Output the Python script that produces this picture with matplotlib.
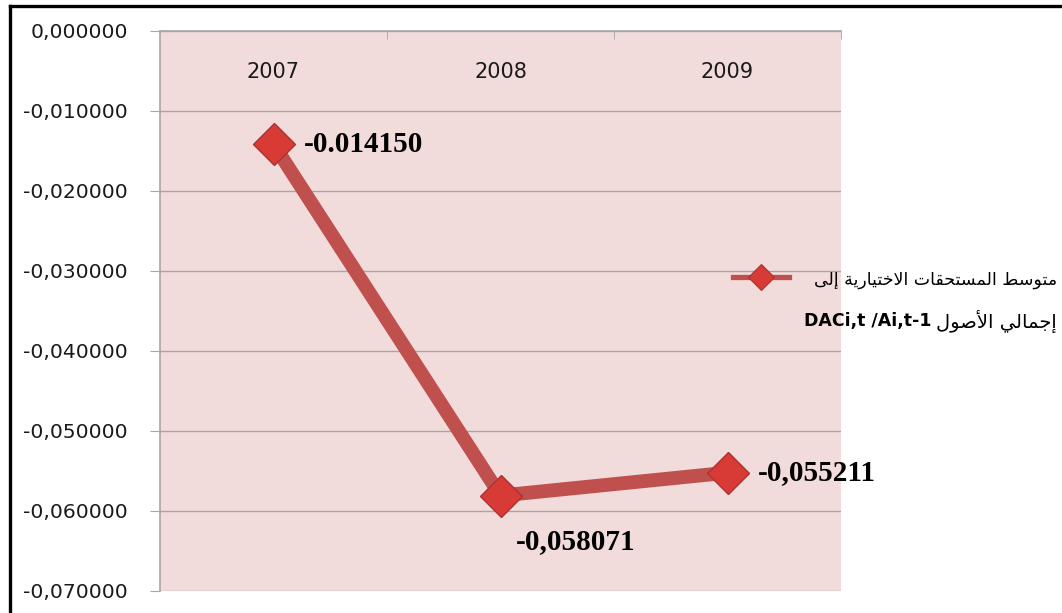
import matplotlib
matplotlib.use("Agg")
import matplotlib.pyplot as plt
from matplotlib.lines import Line2D
from matplotlib.ticker import FixedLocator, FuncFormatter

# data
years = ["2007", "2008", "2009"]
values = [-0.014150, -0.058071, -0.055211]
value_labels = ["-0.014150", "-0,058071", "-0,055211"]
label_offsets = [(22, 0), (11, -33), (22, 0)]  # points
yticks = [0.0, -0.01, -0.02, -0.03, -0.04, -0.05, -0.06, -0.07]

legend_line1 = "متوسط المستحقات الاختيارية إلى"
legend_line2_ar = "إجمالي الأصول"
legend_line2_lat = "DACi,t /Ai,t-1"

# minimal arabic shaping (matplotlib has no bidi / joining support)
AR = {
    'ا': ('\uFE8D', '\uFE8E', None, None),
    'أ': ('\uFE83', '\uFE84', None, None),
    'إ': ('\uFE87', '\uFE88', None, None),
    'ة': ('\uFE93', '\uFE94', None, None),
    'ت': ('\uFE95', '\uFE96', '\uFE97', '\uFE98'),
    'ج': ('\uFE9D', '\uFE9E', '\uFE9F', '\uFEA0'),
    'ح': ('\uFEA1', '\uFEA2', '\uFEA3', '\uFEA4'),
    'خ': ('\uFEA5', '\uFEA6', '\uFEA7', '\uFEA8'),
    'ر': ('\uFEAD', '\uFEAE', None, None),
    'س': ('\uFEB1', '\uFEB2', '\uFEB3', '\uFEB4'),
    'ص': ('\uFEB9', '\uFEBA', '\uFEBB', '\uFEBC'),
    'ط': ('\uFEC1', '\uFEC2', '\uFEC3', '\uFEC4'),
    'ق': ('\uFED5', '\uFED6', '\uFED7', '\uFED8'),
    'ل': ('\uFEDD', '\uFEDE', '\uFEDF', '\uFEE0'),
    'م': ('\uFEE1', '\uFEE2', '\uFEE3', '\uFEE4'),
    'و': ('\uFEED', '\uFEEE', None, None),
    'ى': ('\uFEEF', '\uFEF0', None, None),
    'ي': ('\uFEF1', '\uFEF2', '\uFEF3', '\uFEF4'),
}
LAM_ALEF = {'ا': ('\uFEFB', '\uFEFC'), 'أ': ('\uFEF7', '\uFEF8'),
            'إ': ('\uFEF9', '\uFEFA')}


def shape(s):
    out = []
    i = 0
    n = len(s)
    while i < n:
        c = s[i]
        if c not in AR:
            out.append(c)
            i += 1
            continue
        prev = i > 0 and s[i - 1] in AR and AR[s[i - 1]][2] is not None
        if c == 'ل' and i + 1 < n and s[i + 1] in LAM_ALEF:
            out.append(LAM_ALEF[s[i + 1]][1 if prev else 0])
            i += 2
            continue
        iso, fin, ini, med = AR[c]
        nxt = ini is not None and i + 1 < n and s[i + 1] in AR
        if prev and nxt:
            out.append(med)
        elif prev:
            out.append(fin)
        elif nxt:
            out.append(ini)
        else:
            out.append(iso)
        i += 1
    return ''.join(reversed(out))


W, H, DPI = 1062, 613, 100
fig = plt.figure(figsize=(W / DPI, H / DPI), dpi=DPI)
ax = fig.add_axes([160 / W, 1 - 591 / H, 681 / W, 560 / H])

pink = "#F2DCDB"
grey = "#A6A6A6"
red = "#C0504D"
ax.set_facecolor(pink)

x = list(range(len(years)))
ax.plot(x, values, color=red, lw=10, solid_capstyle="butt", zorder=3)
ax.plot(x, values, ls="none", marker="D", ms=21, mfc="#D83A36",
        mec="#A93330", mew=1, zorder=4)

for xi, v, lab, off in zip(x, values, value_labels, label_offsets):
    ax.annotate(lab, (xi, v), xytext=off, textcoords="offset points",
                ha="left", va="center", fontsize=21, fontweight="bold",
                family="Liberation Serif", color="black", zorder=5)

ax.set_xlim(-0.5, len(years) - 0.5)
ax.set_ylim(-0.07, 0.0)

ax.yaxis.set_major_locator(FixedLocator(yticks))
ax.yaxis.set_major_formatter(FuncFormatter(
    lambda v, p: "0,000000" if abs(v) < 1e-12 else f"{v:.6f}".replace(".", ",")))
ax.tick_params(axis="y", direction="out", length=7, color=grey, pad=16,
               labelsize=14.6, labelcolor="#1a1a1a")
ax.grid(axis="y", color=grey, lw=1)
ax.set_axisbelow(True)

ax.xaxis.tick_top()
ax.set_xticks(x)
ax.set_xticklabels(years)
ax.set_xticks([0.5, 1.5, 2.5], minor=True)
ax.tick_params(axis="x", which="major", length=0, pad=-37, labelsize=15,
               labelcolor="#1a1a1a")
ax.tick_params(axis="x", which="minor", direction="in", length=6, color=grey,
               top=True, bottom=False)

for side in ["right", "bottom"]:
    ax.spines[side].set_visible(False)
for side in ["left", "top"]:
    ax.spines[side].set_color(grey)
    ax.spines[side].set_linewidth(1.2)

# legend, drawn by hand so the arabic lines can be right-aligned
ly = 1 - 277 / H
fig.add_artist(Line2D([733 / W, 789 / W], [ly, ly], color=red, lw=3.8,
                      transform=fig.transFigure))
fig.add_artist(Line2D([761 / W], [ly], ls="none", marker="D", ms=13,
                      mfc="#D83A36", mec="#A93330", mew=0.8,
                      transform=fig.transFigure))
fig.text(1057 / W, 1 - 280 / H, shape(legend_line1), ha="right", va="center",
         fontsize=12.5, family="DejaVu Sans")
t2 = fig.text(1057 / W, 1 - 321 / H, shape(legend_line2_ar), ha="right",
              va="center", fontsize=14, family="DejaVu Sans")
fig.canvas.draw()
bb = t2.get_window_extent(fig.canvas.get_renderer())
fig.text((bb.x0 - 5) / W, 1 - 321 / H, legend_line2_lat, ha="right",
         va="center", fontsize=12.5, fontweight="bold", family="DejaVu Sans")

# outer frame (cut off at right and bottom in the reference)
fig.add_artist(Line2D([10 / W, 10 / W], [0, 1 - 6 / H], color="black", lw=2.4,
                      transform=fig.transFigure))
fig.add_artist(Line2D([10 / W, 1], [1 - 6 / H, 1 - 6 / H], color="black",
                      lw=2.4, transform=fig.transFigure))

fig.savefig("out.png", dpi=DPI)
